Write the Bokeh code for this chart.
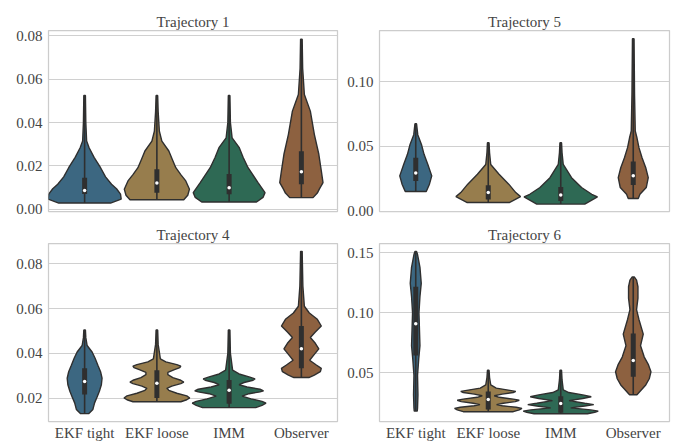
from bokeh.plotting import figure
from bokeh.layouts import gridplot
from bokeh.models import FixedTicker, NumeralTickFormatter, Range1d
from bokeh.embed import file_html
from bokeh.resources import INLINE

categories = ["EKF tight", "EKF loose", "IMM", "Observer"]
colors = ["#3c6781", "#977d4d", "#2e6954", "#8d6140"]
titles = ["Trajectory 1", "Trajectory 5", "Trajectory 4", "Trajectory 6"]

# ---- Trajectory 1: violin profiles (values, relative density) ----
t1_y = [
    [0.0029, 0.0047, 0.007, 0.0095, 0.0116, 0.015, 0.0192, 0.024, 0.0284, 0.0315, 0.04, 0.0525],
    [0.0044, 0.0065, 0.0093, 0.0131, 0.016, 0.0192, 0.023, 0.0269, 0.0315, 0.036, 0.045, 0.0525],
    [0.0034, 0.0055, 0.0077, 0.0123, 0.0192, 0.024, 0.0286, 0.033, 0.04, 0.0525],
    [0.0054, 0.0075, 0.0093, 0.0123, 0.0177, 0.0254, 0.0346, 0.0453, 0.053, 0.065, 0.0785],
]
t1_d = [
    [26, 36.7, 36, 32, 27, 21, 16, 9.5, 4.5, 2.0, 1.2, 0.8],
    [27, 31, 32.7, 29, 24, 19, 15.5, 12, 5, 2.5, 1.3, 0.8],
    [27.5, 34, 36, 29, 19, 14, 10, 3, 1.3, 0.8],
    [11.7, 16, 18, 21.7, 20, 17.5, 13, 9, 3, 1.3, 0.8],
]
t1_q1 = [0.0071, 0.0077, 0.0070, 0.0116]
t1_med = [0.0087, 0.0122, 0.0100, 0.0173]
t1_q3 = [0.0146, 0.0185, 0.0163, 0.0268]

# ---- Trajectory 5 ----
t5_y = [
    [0.0151, 0.0208, 0.0272, 0.0362, 0.0438, 0.0515, 0.059, 0.0674],
    [0.0066, 0.0112, 0.0143, 0.0208, 0.0285, 0.036, 0.045, 0.0528],
    [0.0054, 0.011, 0.013, 0.0182, 0.0258, 0.036, 0.045, 0.0528],
    [0.0097, 0.013, 0.0182, 0.0258, 0.0335, 0.0412, 0.049, 0.0566, 0.0618, 0.09, 0.133],
]
t5_d = [
    [10.5, 13.7, 16, 12, 8.3, 5.7, 2, 0.8],
    [21, 32.3, 27.5, 20.5, 10.8, 2.5, 1.3, 0.8],
    [24, 36.7, 31, 20.8, 10.8, 2.5, 1.3, 0.8],
    [5, 6.7, 13, 15, 12.5, 8.8, 5.7, 3.7, 2, 1.3, 0.8],
]
t5_q1 = [0.0233, 0.0090, 0.0079, 0.0202]
t5_med = [0.0295, 0.0143, 0.0125, 0.0272]
t5_q3 = [0.0412, 0.0200, 0.0187, 0.0382]

# ---- Trajectory 4 ----
t4_y = [
    [0.0131, 0.015, 0.0179, 0.0205, 0.0231, 0.026, 0.0289, 0.0318, 0.0347, 0.0378, 0.0406, 0.0435, 0.047, 0.0504],
    [0.0184, 0.0193, 0.0201, 0.021, 0.0222, 0.0235, 0.0244, 0.0254, 0.0265, 0.0272, 0.028, 0.0292,
     0.0305, 0.0315, 0.0326, 0.0336, 0.0343, 0.035, 0.0362, 0.0375, 0.044, 0.0504],
    [0.0158, 0.0168, 0.0178, 0.0186, 0.0197, 0.0209, 0.022, 0.0228, 0.0233, 0.024, 0.025, 0.026,
     0.027, 0.028, 0.0286, 0.0295, 0.0308, 0.0325, 0.04, 0.0504],
    [0.0292, 0.0303, 0.0318, 0.0333, 0.0348, 0.0369, 0.039, 0.042, 0.0445, 0.0471, 0.0495, 0.0522,
     0.0552, 0.058, 0.061, 0.07, 0.0855],
]
t4_d = [
    [4, 8.3, 10, 12.5, 14.8, 16.8, 17.5, 16, 13.3, 10.5, 7.5, 2.5, 1.2, 0.8],
    [24, 30, 33, 30, 20, 12, 10, 15, 24, 27, 24, 16, 11, 11, 17, 23, 24, 20, 9, 3.5, 1.3, 0.8],
    [26.7, 33, 37, 33, 22, 13, 20, 31, 34.5, 31, 18, 10, 15, 24, 26, 20, 10, 3.5, 1.3, 0.8],
    [7.5, 13, 19, 20, 15, 8.3, 12, 17.5, 14, 9, 14, 20, 16, 8, 3, 1.5, 0.8],
]
t4_q1 = [0.0216, 0.0201, 0.0175, 0.0333]
t4_med = [0.0274, 0.0267, 0.0235, 0.0420]
t4_q3 = [0.0333, 0.0325, 0.0281, 0.0522]

# ---- Trajectory 6 ----
t6_y = [
    [0.018, 0.0207, 0.0316, 0.048, 0.0617, 0.0726, 0.0863, 0.1, 0.1136, 0.1246, 0.138, 0.149, 0.1513],
    [0.0175, 0.019, 0.0202, 0.0212, 0.0224, 0.0234, 0.0245, 0.0259, 0.027, 0.028, 0.0295, 0.0308,
     0.0322, 0.0335, 0.0344, 0.0355, 0.0372, 0.0398, 0.046, 0.0521],
    [0.0158, 0.017, 0.018, 0.019, 0.0207, 0.0222, 0.0234, 0.0245, 0.0267, 0.0285, 0.03, 0.0315,
     0.0335, 0.0357, 0.044, 0.0521],
    [0.0316, 0.0398, 0.045, 0.0508, 0.057, 0.0631, 0.0726, 0.0822, 0.0945, 0.1027, 0.1123, 0.1218, 0.1273, 0.13],
]
t6_d = [
    [1.5, 1.8, 2.2, 1.8, 3, 4.2, 3.7, 3.2, 4.2, 5.5, 4.2, 1.7, 0.8],
    [25, 31, 33.7, 28, 14, 8.3, 15, 27, 31, 25, 11, 6, 14, 25, 27.5, 20, 8, 2.5, 1.3, 0.8],
    [26.7, 34, 37.5, 30, 10, 24, 33, 24, 8.3, 22, 30.5, 22, 8, 2.5, 1.3, 0.8],
    [3.7, 12.5, 16, 17.7, 15, 11, 7.3, 10, 5.7, 3.3, 4.7, 4.7, 3.3, 1],
]
t6_q1 = [0.0644, 0.0193, 0.0166, 0.0467]
t6_med = [0.0910, 0.0276, 0.0243, 0.0603]
t6_q3 = [0.1218, 0.0344, 0.0303, 0.0828]

# axis limits and ticks per panel
t1_lim, t1_ticks = (-0.001, 0.0825), [0.0, 0.02, 0.04, 0.06, 0.08]
t5_lim, t5_ticks = (-0.0003, 0.1394), [0.0, 0.05, 0.10]
t4_lim, t4_ticks = (0.0096, 0.089), [0.02, 0.04, 0.06, 0.08]
t6_lim, t6_ticks = (0.0093, 0.1579), [0.05, 0.10, 0.15]

DENSITY_SCALE = 1.0 / 72.5
FONT = "Liberation Serif"
FSIZE = "15px"
TEXT = "#444444"
DARK = "#2f2f2f"


def make_panel(title, ys, ds, q1, med, q3, lim, ticks, width, height,
               bl, br, bt, bb, show_x):
    p = figure(width=width, height=height, title=title,
               x_range=Range1d(-0.5, 3.5), y_range=Range1d(*lim),
               output_backend="svg", toolbar_location=None,
               min_border_left=bl, min_border_right=br,
               min_border_top=bt, min_border_bottom=bb)
    p.title.text_font = FONT
    p.title.text_font_size = FSIZE
    p.title.text_font_style = "normal"
    p.title.text_color = TEXT
    p.title.align = "center"
    p.title.standoff = 1

    xs_all, ys_all = [], []
    for i in range(len(categories)):
        left = [i - d * DENSITY_SCALE for d in ds[i]]
        right = [i + d * DENSITY_SCALE for d in ds[i]]
        xs_all.append(left + right[::-1])
        ys_all.append(ys[i] + ys[i][::-1])
    p.patches(xs_all, ys_all, fill_color=colors, line_color=DARK, line_width=1.4)

    idx = list(range(len(categories)))
    lo = [y[0] for y in ys]
    hi = [y[-1] for y in ys]
    p.segment(x0=idx, y0=lo, x1=idx, y1=hi, line_color=DARK, line_width=1.6)
    p.segment(x0=idx, y0=q1, x1=idx, y1=q3, line_color=DARK, line_width=5)
    p.scatter(x=idx, y=med, size=3.5, fill_color="white", line_color=None)

    for ax in (p.xaxis, p.yaxis):
        ax.major_label_text_font = FONT
        ax.major_label_text_font_size = FSIZE
        ax.major_label_text_color = TEXT
        ax.axis_line_color = None
        ax.major_tick_line_color = None
        ax.minor_tick_line_color = None
        ax.major_tick_out = 0
        ax.major_tick_in = 0
        ax.minor_tick_out = 0
        ax.minor_tick_in = 0

    p.yaxis.ticker = FixedTicker(ticks=ticks)
    p.yaxis.formatter = NumeralTickFormatter(format="0.00")
    p.yaxis.major_label_standoff = 6

    p.xaxis.ticker = FixedTicker(ticks=idx)
    p.xaxis.major_label_overrides = {i: c for i, c in enumerate(categories)}
    p.xaxis.major_label_standoff = 3
    p.xaxis.visible = show_x

    p.xgrid.grid_line_color = None
    p.ygrid.grid_line_color = "#d0d0d0"
    p.ygrid.grid_line_width = 1.2
    p.ygrid.ticker = FixedTicker(ticks=ticks)
    p.outline_line_color = "#cccccc"
    p.outline_line_width = 1.25
    p.background_fill_color = "white"
    p.border_fill_color = "white"
    return p


p1 = make_panel(titles[0], t1_y, t1_d, t1_q1, t1_med, t1_q3, t1_lim, t1_ticks,
                341, 221, 48, 4, 30, 10, False)
p2 = make_panel(titles[1], t5_y, t5_d, t5_q1, t5_med, t5_q3, t5_lim, t5_ticks,
                332, 221, 38, 4, 30, 10, False)
p3 = make_panel(titles[2], t4_y, t4_d, t4_q1, t4_med, t4_q3, t4_lim, t4_ticks,
                341, 222, 48, 4, 22, 19, True)
p4 = make_panel(titles[3], t6_y, t6_d, t6_q1, t6_med, t6_q3, t6_lim, t6_ticks,
                332, 222, 38, 4, 22, 19, True)

grid = gridplot([[p1, p2], [p3, p4]], toolbar_location=None)

open("out.html", "w").write(file_html(grid, INLINE))
